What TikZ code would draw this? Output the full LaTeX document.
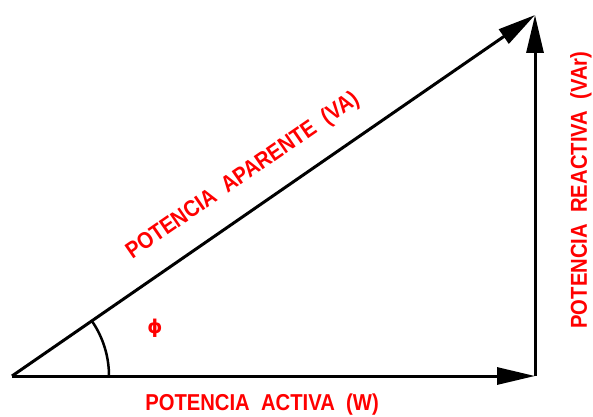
\documentclass[tikz,border=0pt]{standalone}
\usepackage{fontspec}
\setmainfont[FakeStretch=0.88]{Liberation Sans}
\newfontfamily\phifont{DejaVu Sans}
\usetikzlibrary{arrows.meta,calc}
\begin{document}
\begin{tikzpicture}[x=1pt,y=1pt,
  vec/.style={line width=3pt,-{Triangle[length=38pt,width=17pt]}},
  lbl/.style={text=red,font=\fontsize{23}{23}\selectfont\bfseries,inner sep=0pt}]
\useasboundingbox (0,0) rectangle (593,416);
\coordinate (O) at (12,40);
\coordinate (B) at (535,40);
\coordinate (T) at (535,401);
\draw[vec] (O) -- (B);
\draw[vec] (B) -- (T);
\draw[vec] (O) -- (T);
\draw[line width=2.5pt] ($(O)+(0:97)$) arc[start angle=0,end angle=34.6,radius=97];
\node[text=red,inner sep=0pt,font=\phifont\bfseries\fontsize{19}{19}\selectfont] (phi) at (155,88) {ϕ};
\node[lbl] (act) at (262,11) {POTENCIA\ \ ACTIVA\ \ (W)};
\node[lbl,rotate=90] (rea) at (581,226) {POTENCIA\ \ REACTIVA\ \ (VAr)};
\node[lbl,rotate=34.6] (apa) at (243,240) {POTENCIA\ \ APARENTE\ \ (VA)};
\end{tikzpicture}
\end{document}
